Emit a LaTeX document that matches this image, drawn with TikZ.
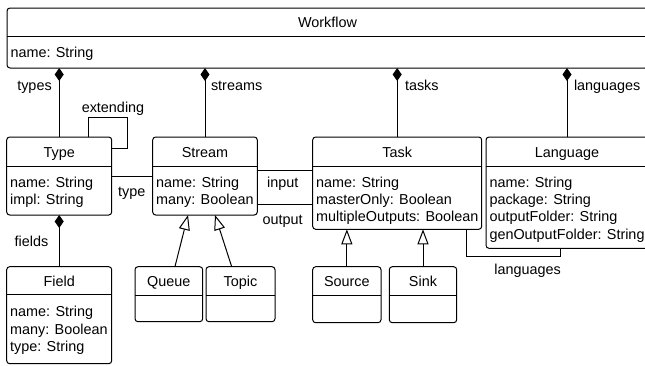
\documentclass[tikz,border=0pt]{standalone}
\usepackage{fontspec}
\setmainfont{Liberation Sans}
\usetikzlibrary{arrows.meta}
\begin{document}
\begin{tikzpicture}[x=1pt,y=-1pt,
  font=\fontsize{14.4}{17.3}\selectfont,
  line width=1pt,
  cls/.style={draw, rounded corners=3pt, anchor=north west, inner sep=0pt, outer sep=0pt},
  ttl/.style={anchor=base, inner sep=0pt},
  attr/.style={anchor=base west, inner sep=0pt},
  lbl/.style={anchor=base, inner sep=0pt},
  lblw/.style={anchor=base west, inner sep=0pt},
  comp/.style={-{Diamond[length=13pt,width=9pt]}},
  gen/.style={-{Triangle[open,length=15pt,width=11pt]}},
]
\useasboundingbox (0,0) rectangle (645,365);

% Workflow
\node[cls, minimum width=641pt, minimum height=60pt] (workflow) at (7,8) {};
\draw (7,36) -- (648,36);
\node[ttl] (workflow-t) at (327.5,27.5) {Workflow};
\node[attr] (workflow-a) at (10,57.5) {name: String};

% Type
\node[cls, minimum width=105pt, minimum height=78pt] (type) at (6.7,137) {};
\draw (6.7,166) -- (111.7,166);
\node[ttl] (type-t) at (59.2,157.5) {Type};
\foreach \t [count=\i from 0] in {name: String, impl: String}
  \node[attr] (type-a\i) at (9.7,{187+17.3*\i}) {\t};

% Stream
\node[cls, minimum width=104.6pt, minimum height=78pt] (stream) at (152.7,137) {};
\draw (152.7,166) -- (257.3,166);
\node[ttl] (stream-t) at (205,157.5) {Stream};
\foreach \t [count=\i from 0] in {name: String, many: Boolean}
  \node[attr] (stream-a\i) at (155.7,{187+17.3*\i}) {\t};

% Task
\node[cls, minimum width=169pt, minimum height=92.3pt] (task) at (312.7,137) {};
\draw (312.7,166) -- (481.7,166);
\node[ttl] (task-t) at (397.2,157.5) {Task};
\foreach \t [count=\i from 0] in {name: String, masterOnly: Boolean, multipleOutputs: Boolean}
  \node[attr] (task-a\i) at (315.7,{187.3+17.3*\i}) {\t};

% Language
\node[cls, minimum width=162pt, minimum height=111.3pt] (language) at (486,137) {};
\draw (486,166) -- (648,166);
\node[ttl] (language-t) at (567,157.5) {Language};
\foreach \t [count=\i from 0] in {name: String, package: String, outputFolder: String, genOutputFolder: String}
  \node[attr] (language-a\i) at (489,{187.3+17.3*\i}) {\t};

% Field
\node[cls, minimum width=105pt, minimum height=97pt] (field) at (6.7,266.7) {};
\draw (6.7,294) -- (111.7,294);
\node[ttl] (field-t) at (59.2,286) {Field};
\foreach \t [count=\i from 0] in {name: String, many: Boolean, type: String}
  \node[attr] (field-a\i) at (9.7,{316.7+17.3*\i}) {\t};

% Queue, Topic
\node[cls, minimum width=67.7pt, minimum height=55pt] (queue) at (135,266.7) {};
\draw (135,295.5) -- (202.7,295.5);
\node[ttl] (queue-t) at (168.85,286) {Queue};
\node[cls, minimum width=69pt, minimum height=55pt] (topic) at (206,266.7) {};
\draw (206,295.5) -- (275,295.5);
\node[ttl] (topic-t) at (240.5,286) {Topic};

% Source, Sink
\node[cls, minimum width=68.3pt, minimum height=56pt] (source) at (312.7,266.7) {};
\draw (312.7,295) -- (381,295);
\node[ttl] (source-t) at (346.85,286) {Source};
\node[cls, minimum width=67.4pt, minimum height=56pt] (sink) at (389.3,266.7) {};
\draw (389.3,295) -- (456.7,295);
\node[ttl] (sink-t) at (423,286) {Sink};

% compositions
\draw[comp] (type.north) -- (type.north |- workflow.south);
\draw[comp] (stream.north) -- (stream.north |- workflow.south);
\draw[comp] (task.north) -- (task.north |- workflow.south);
\draw[comp] (language.north) -- (language.north |- workflow.south);
\draw[comp] (field.north) -- (type.south);

% associations
\draw (type.east) -- (stream.west);
\coordinate (in1) at ([yshift=6pt]stream.east);
\draw (in1) -- (in1 -| task.west);
\coordinate (out1) at ([yshift=-28pt]stream.east);
\draw (out1) -- (out1 -| task.west);
\draw ([xshift=68.8pt]task.south) |- ([xshift=-7pt,yshift=-8.4pt]language.south) -- ([xshift=-7pt]language.south);
\draw ([xshift=28.8pt]type.north) -- ++(0,-20) -- ++(39.7,0) |- ([yshift=-11pt]type.north east);

% generalizations
\draw[gen] ([xshift=6.1pt]queue.north) -- ([xshift=-17pt]stream.south);
\draw[gen] ([xshift=-8.8pt]topic.north) -- ([xshift=10pt]stream.south);
\draw[gen] (source.north) -- (source.north |- task.south);
\draw[gen] (sink.north) -- (sink.north |- task.south);

% labels
\node[lbl] (l-types) at (34.5,90.7) {types};
\node[lblw] (l-streams) at (210.5,90.7) {streams};
\node[lblw] (l-tasks) at (404.5,90.7) {tasks};
\node[lblw] (l-langs) at (573.5,90.7) {languages};
\node[lbl] (l-ext) at (113,112.7) {extending};
\node[lbl] (l-type) at (131.7,196.7) {type};
\node[lbl] (l-in) at (282.7,187) {input};
\node[lbl] (l-out) at (282.7,224) {output};
\node[lbl] (l-fields) at (31.5,246) {fields};
\node[lbl] (l-langs2) at (527.7,274) {languages};
\end{tikzpicture}
\end{document}
